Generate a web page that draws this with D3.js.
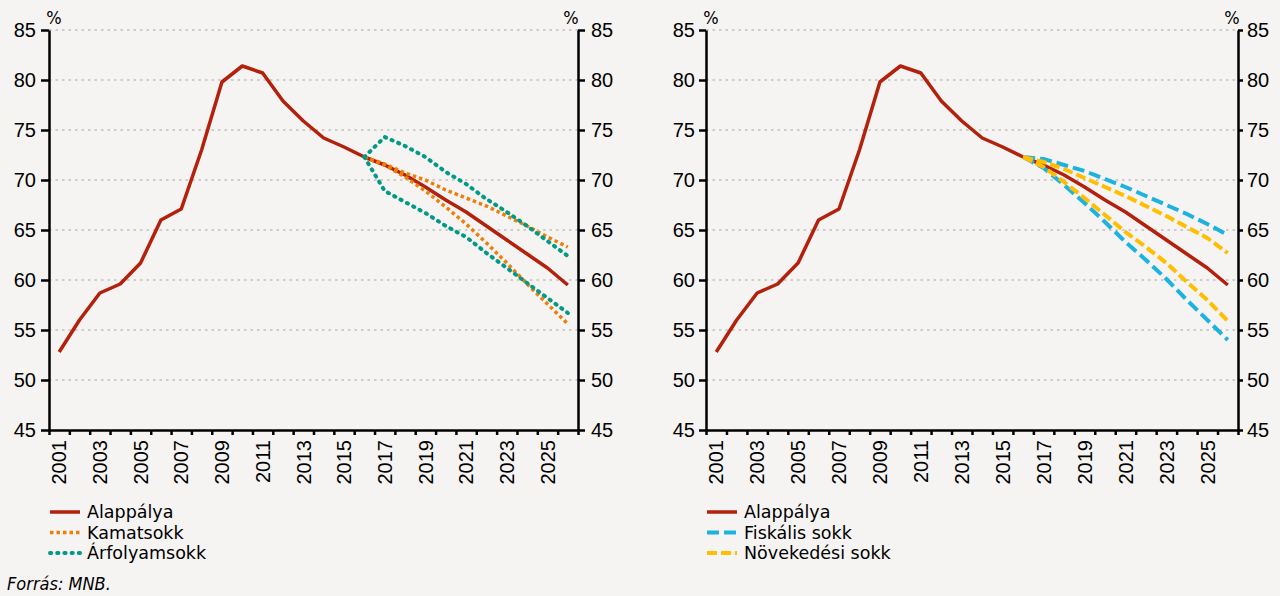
<!DOCTYPE html>
<html>
<head>
<meta charset="utf-8">
<script src="https://cdn.jsdelivr.net/npm/d3@7"></script>
<style>
  body { margin: 0; background: #f5f4f2; }
  svg { display: block; font-family: "DejaVu Sans Condensed", "DejaVu Sans", sans-serif; font-stretch: condensed; }
  .tick text { font-size: 20px; fill: #000; }
  .legtext { font-family: "DejaVu Sans", sans-serif; font-stretch: normal; font-size: 17.5px; }
</style>
</head>
<body>
<svg id="chart" width="1280" height="596"></svg>
<script>
// categories
const years = [2001, 2002, 2003, 2004, 2005, 2006, 2007, 2008, 2009, 2010, 2011, 2012, 2013,
               2014, 2015, 2016, 2017, 2018, 2019, 2020, 2021, 2022, 2023, 2024, 2025, 2026];
const shockYears = [2016, 2017, 2018, 2019, 2020, 2021, 2022, 2023, 2024, 2025, 2026];
const labelYears = [2001, 2003, 2005, 2007, 2009, 2011, 2013, 2015, 2017, 2019, 2021, 2023, 2025];
const yTicks = [45, 50, 55, 60, 65, 70, 75, 80, 85];

// baseline (Alappálya), same in both panels
const alappalya = [52.8, 56.0, 58.7, 59.6, 61.7, 66.0, 67.1, 73.0, 79.8, 81.4, 80.7, 77.9, 75.9,
                   74.2, 73.3, 72.3, 71.5, 70.5, 69.3, 68.0, 66.8, 65.4, 64.0, 62.6, 61.2, 59.5];

// left panel shocks (from 2016)
const kamatFelso  = [72.3, 71.6, 70.7, 70.0, 69.0, 68.2, 67.4, 66.4, 65.4, 64.3, 63.3];
const kamatAlso   = [72.3, 71.5, 70.3, 68.9, 67.3, 65.6, 63.7, 61.7, 59.6, 57.6, 55.6];
const arfolyFelso = [72.3, 74.3, 73.4, 72.3, 70.8, 69.6, 68.1, 66.8, 65.4, 63.9, 62.4];
const arfolyAlso  = [72.3, 68.9, 67.8, 66.7, 65.4, 64.3, 62.7, 61.2, 59.7, 58.2, 56.7];

// right panel shocks (from 2016)
const fiskFelso   = [72.3, 72.1, 71.5, 70.9, 70.1, 69.3, 68.4, 67.5, 66.6, 65.6, 64.5];
const fiskAlso    = [72.3, 71.2, 69.5, 67.7, 65.8, 63.8, 62.0, 60.1, 58.0, 56.0, 54.0];
const novFelso    = [72.3, 71.8, 71.1, 70.2, 69.3, 68.4, 67.4, 66.4, 65.3, 64.2, 62.7];
const novAlso     = [72.3, 71.3, 69.8, 68.2, 66.5, 64.8, 63.3, 61.7, 59.8, 58.0, 55.9];

const red = "#b3200c", orange = "#f07d0a", teal = "#009a85", blue = "#1db3e0", yellow = "#ffbe00";

const styles = {
  base:   { color: red,    width: 3.5, dash: null,      cap: "butt" },
  kamat:  { color: orange, width: 3.5, dash: "3.5,3",   cap: "butt" },
  arfoly: { color: teal,   width: 4,   dash: "1.2,6",   cap: "round" },
  fisk:   { color: blue,   width: 4,   dash: "12,5",    cap: "butt" },
  nov:    { color: yellow, width: 4,   dash: "10,4",    cap: "butt" }
};

const svg = d3.select("#chart");
const plotTop = 30, plotBottom = 430;

function panel(cfg) {
  const g = svg.append("g");
  const x = d3.scaleBand().domain(years).range([cfg.x0, cfg.x1]);
  const xb = d3.scaleLinear().domain([2000.5, 2026.5]).range([cfg.x0, cfg.x1]);
  const y = d3.scaleLinear().domain([45, 85]).range([plotBottom, plotTop]);
  const cx = d => x(d) + x.bandwidth() / 2;

  // grid
  g.selectAll(".grid")
    .data(yTicks.filter(v => v > 45))
    .enter().append("line")
    .attr("x1", cfg.x0).attr("x2", cfg.x1)
    .attr("y1", d => y(d)).attr("y2", d => y(d))
    .attr("stroke", "#a3a3a3").attr("stroke-width", 1.2)
    .attr("stroke-dasharray", "2.5,4");

  // lines
  const line = (xs, vals) => d3.line().x((d, i) => cx(xs[i])).y(d => y(d))(vals);
  const drawLine = (xs, vals, st) => g.append("path")
    .attr("d", line(xs, vals))
    .attr("fill", "none")
    .attr("stroke", st.color)
    .attr("stroke-width", st.width)
    .attr("stroke-linecap", st.cap)
    .attr("stroke-linejoin", "round")
    .attr("stroke-dasharray", st.dash);

  drawLine(years, alappalya, styles.base);
  cfg.shocks.forEach(s => drawLine(shockYears, s.values, styles[s.style]));

  // axes
  const yl = g.append("g")
    .attr("transform", `translate(${cfg.x0},0)`)
    .call(d3.axisLeft(y).tickValues(yTicks).tickSize(cfg.tickL).tickPadding(cfg.padL).tickSizeOuter(0));
  const yr = g.append("g")
    .attr("transform", `translate(${cfg.x1},0)`)
    .call(d3.axisRight(y).tickValues(yTicks).tickSize(cfg.tickR).tickPadding(cfg.padR).tickSizeOuter(0));
  const xt = g.append("g")
    .attr("transform", `translate(0,${plotBottom})`)
    .call(d3.axisBottom(xb).tickValues(d3.range(2000.5, 2027, 1)).tickSize(5).tickFormat("").tickSizeOuter(0));
  const xl = g.append("g")
    .attr("transform", `translate(0,${plotBottom})`)
    .call(d3.axisBottom(x).tickValues(labelYears).tickSize(0).tickSizeOuter(0));
  xl.select(".domain").remove();
  xl.selectAll("text")
    .attr("x", -10).attr("y", 0).attr("dy", "0.36em")
    .attr("transform", "rotate(-90)")
    .style("text-anchor", "end");

  [yl, yr, xt].forEach(a => {
    a.selectAll("path, line").attr("stroke", "#000").attr("stroke-width", 2.5);
  });

  // % units
  g.append("text").attr("x", cfg.pctL).attr("y", 24).attr("text-anchor", "middle")
    .style("font-size", "18px").text("%");
  g.append("text").attr("x", cfg.pctR).attr("y", 24).attr("text-anchor", "middle")
    .style("font-size", "18px").text("%");

  // legend
  const leg = g.selectAll(".leg")
    .data(cfg.legend)
    .enter().append("g")
    .attr("transform", (d, i) => `translate(${cfg.x0},${512 + i * 20.5})`);
  leg.append("line")
    .attr("x1", 1).attr("x2", 31).attr("y1", 0).attr("y2", 0)
    .attr("stroke", d => styles[d.style].color)
    .attr("stroke-width", d => styles[d.style].width)
    .attr("stroke-linecap", d => styles[d.style].cap)
    .attr("stroke-dasharray", d => styles[d.style].dash);
  leg.append("text")
    .attr("class", "legtext")
    .attr("x", 38).attr("y", 0).attr("dy", "0.35em")
    .text(d => d.label);
}

panel({
  x0: 49, x1: 578, tickL: 8, padL: 5, tickR: 7, padR: 6, pctL: 54, pctR: 571,
  shocks: [
    { values: kamatFelso, style: "kamat" },
    { values: kamatAlso, style: "kamat" },
    { values: arfolyFelso, style: "arfoly" },
    { values: arfolyAlso, style: "arfoly" }
  ],
  legend: [
    { label: "Alappálya", style: "base" },
    { label: "Kamatsokk", style: "kamat" },
    { label: "Árfolyamsokk", style: "arfoly" }
  ]
});

panel({
  x0: 706, x1: 1238, tickL: 7, padL: 4, tickR: 5, padR: 4, pctL: 711, pctR: 1232,
  shocks: [
    { values: fiskFelso, style: "fisk" },
    { values: fiskAlso, style: "fisk" },
    { values: novFelso, style: "nov" },
    { values: novAlso, style: "nov" }
  ],
  legend: [
    { label: "Alappálya", style: "base" },
    { label: "Fiskális sokk", style: "fisk" },
    { label: "Növekedési sokk", style: "nov" }
  ]
});

svg.append("text")
  .attr("x", 7).attr("y", 590)
  .style("font-size", "18px").style("font-style", "italic")
  .text("Forrás: MNB.");
</script>
</body>
</html>
